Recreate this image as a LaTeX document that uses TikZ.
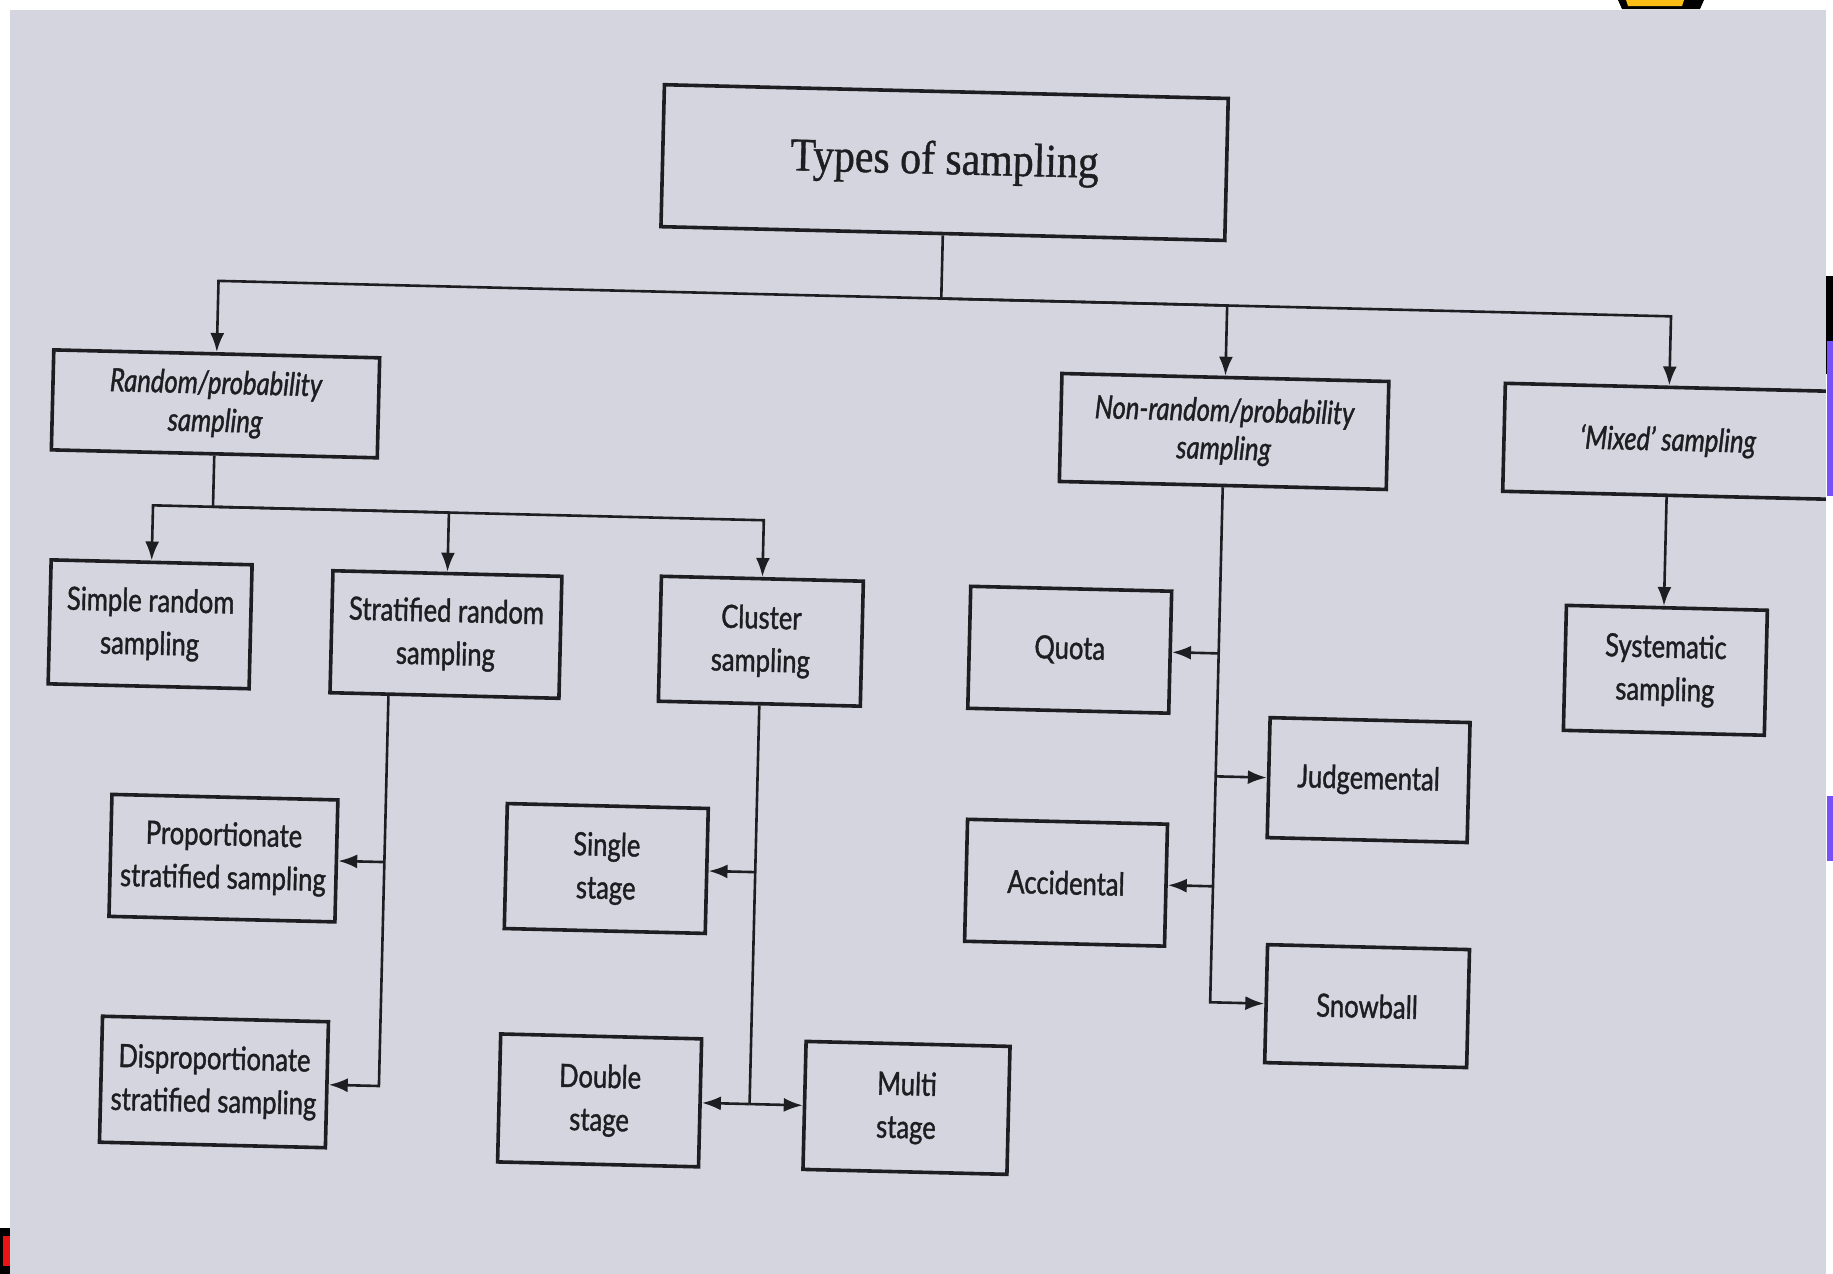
\documentclass[tikz,border=0pt]{standalone}
\usepackage{fontspec}
\setmainfont{Lato}[FakeStretch=0.8,FakeBold=1.2]
\newfontfamily\titlefont{Liberation Serif}[FakeStretch=0.89,FakeBold=0.8]
\usetikzlibrary{arrows.meta,calc}
\definecolor{page}{RGB}{213,213,223}
\definecolor{ink}{RGB}{30,30,34}
\definecolor{slidepurple}{RGB}{120,80,250}
\definecolor{slideyellow}{RGB}{250,190,20}
\definecolor{slidered}{RGB}{235,20,20}

\begin{document}
\begin{tikzpicture}[x=0.5pt,y=-0.5pt,
  box/.style={draw=ink, line width=1.8pt, rectangle, inner sep=0pt, align=center,
    text=ink, font=\fontsize{16}{21.5}\selectfont},
  ibox/.style={box, font=\fontsize{16}{19}\selectfont\itshape},
  tbox/.style={box, font=\titlefont\fontsize{23.5}{26}\selectfont},
  wire/.style={draw=ink, line width=1.3pt},
  arr/.style={wire, -{Latex[length=9.5pt,width=7pt]}}]

\useasboundingbox (0,0) rectangle (1833,1274);
\fill[white] (0,0) rectangle (1833,1274);
\fill[page] (10,10) rectangle (1826,1274);

\begin{scope}[transform canvas={rotate around={-1.4:(916,637)}}]
  % level 0
  \node[tbox, minimum width=282pt, minimum height=71pt] (title) at (933,162) {Types of sampling};

  % level 1
  \node[ibox, minimum width=163pt, minimum height=50pt] (rand) at (210,421) {Random/probability\\sampling};
  \node[ibox, minimum width=163.5pt, minimum height=54pt] (nonr) at (1219,424) {Non-random/probability\\sampling};
  \node[ibox, minimum width=164pt, minimum height=54pt] (mixed) at (1663,423) {‘Mixed’ sampling};

  % random branch
  \node[box, minimum width=100.5pt, minimum height=62pt] (simple) at (150,643) {Simple random\\sampling};
  \node[box, minimum width=114.5pt, minimum height=61pt] (strat) at (446,646) {Stratified random\\sampling};
  \node[box, minimum width=101pt, minimum height=62.5pt] (clus) at (761,645) {Cluster\\sampling};
  \node[box, minimum width=113pt, minimum height=61pt] (prop) at (229,875) {Proportionate\\stratified sampling};
  \node[box, minimum width=113pt, minimum height=63pt] (disp) at (225,1099) {Disproportionate\\stratified sampling};
  \node[box, minimum width=100.5pt, minimum height=62.5pt] (single) at (612,876) {Single\\stage};
  \node[box, minimum width=100.5pt, minimum height=64pt] (double) at (611,1108) {Double\\stage};
  \node[box, minimum width=102pt, minimum height=64pt] (multi) at (918,1108) {Multi\\stage};

  % non-random branch
  \node[box, minimum width=100.5pt, minimum height=61pt] (quota) at (1070,646) {Quota};
  \node[box, minimum width=100pt, minimum height=60pt] (judg) at (1372,769) {Judgemental};
  \node[box, minimum width=100pt, minimum height=61pt] (acc) at (1072,879) {Accidental};
  \node[box, minimum width=101pt, minimum height=59pt] (snow) at (1376,995) {Snowball};

  % mixed branch
  \node[box, minimum width=100.5pt, minimum height=62.5pt] (syst) at (1666,652) {Systematic\\sampling};

  % top bus
  \coordinate (bus) at (0,298);
  \draw[wire] (title.south) -- (title.south |- bus) coordinate (hub);
  \draw[arr] (hub) -| (rand.north);
  \draw[arr] (hub) -| (nonr.north);
  \draw[arr] (hub) -| (mixed.north);

  % second bus
  \coordinate (bus2) at (0,524);
  \draw[wire] (rand.south) -- (rand.south |- bus2) coordinate (hub2);
  \draw[arr] (hub2) -| (simple.north);
  \draw[arr] (hub2) -| (strat.north);
  \draw[arr] (hub2) -| (clus.north);

  % stratified sub-types
  \coordinate (sstem) at ($(strat.south)+(-56,0)$);
  \draw[arr] (sstem) |- (disp.east);
  \draw[arr] (sstem |- prop.east) -- (prop.east);

  % cluster sub-types
  \draw[wire] (clus.south) -- (clus.south |- multi.west) coordinate (cb);
  \draw[arr] (cb) -- (double.east);
  \draw[arr] (cb) -- (multi.west);
  \draw[arr] (clus.south |- single.east) -- (single.east);

  % non-random sub-types
  \draw[arr] (nonr.south) |- (snow.west);
  \draw[arr] (nonr.south |- quota.east) -- (quota.east);
  \draw[arr] (nonr.south |- judg.west) -- (judg.west);
  \draw[arr] (nonr.south |- acc.east) -- (acc.east);

  % mixed sub-type
  \draw[arr] (mixed.south) -- (mixed.south |- syst.north);
\end{scope}

% page margins
\fill[white] (1826,0) rectangle (1833,1274);
\fill[white] (0,0) rectangle (1833,10);
\fill[white] (0,0) rectangle (10,1274);

% edge marks
\fill[black] (1618,0) -- (1704,0) -- (1700,9) -- (1622,9) -- cycle;
\fill[slideyellow] (1626,0) -- (1684,0) -- (1682,6) -- (1628,6) -- cycle;
\fill[black] (1826,276) rectangle (1833,374);
\fill[slidepurple] (1827,341) rectangle (1833,496);
\fill[slidepurple] (1827,796) rectangle (1833,861);
\fill[black] (0,1228) rectangle (10,1274);
\fill[slidered] (3,1236) rectangle (10,1266);
\end{tikzpicture}
\end{document}
